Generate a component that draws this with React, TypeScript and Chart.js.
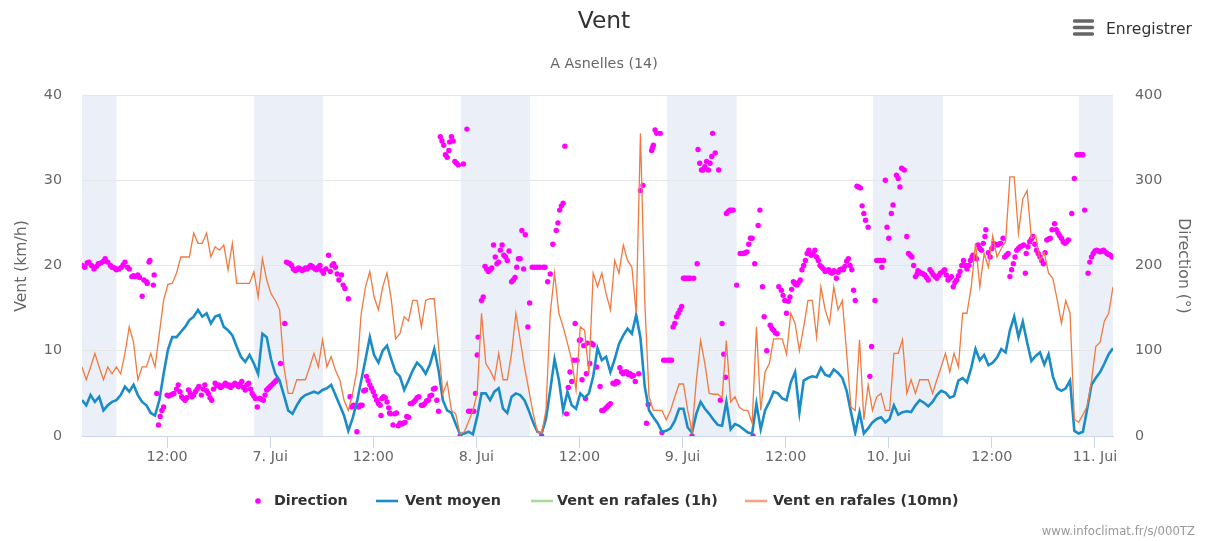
import React, { useEffect, useRef } from "react";
import { Chart, registerables } from "chart.js";

Chart.register(...registerables);

const FONT = '"DejaVu Sans", Verdana, Arial, sans-serif';

// Time grid of the wind series: hours counted from 6 Jui 00:00, every 30 min
const START_HOUR = 2.1;
const STEP_HOURS = 0.5;
const X_MIN = 2.1;
const X_MAX = 122.1;

// Vent moyen (km/h)
const ventMoyen = [
  4.2, 3.6, 4.8, 4.0, 4.6, 3.0, 3.6, 4.0, 4.2, 4.8,
  5.8, 5.2, 6.0, 4.8, 4.0, 3.6, 2.7, 2.4, 4.2, 7.3,
  10.1, 11.6, 11.6, 12.2, 12.8, 13.6, 14.0, 14.8, 14.0, 14.4,
  13.2, 14.0, 14.2, 12.8, 12.4, 11.8, 10.5, 9.3, 8.7, 9.5,
  8.5, 7.3, 12.0, 11.6, 9.0, 7.3, 6.5, 4.8, 3.0, 2.6,
  3.6, 4.4, 4.8, 5.0, 5.2, 5.0, 5.4, 5.6, 6.0, 4.8,
  3.6, 2.4, 0.6, 2.1, 4.0, 6.5, 9.0, 11.6, 9.5, 8.6,
  10.0, 10.6, 9.0, 7.5, 7.0, 5.4, 6.5, 7.7, 8.6, 8.1,
  7.3, 8.4, 10.2, 7.7, 4.2, 3.0, 2.7, 1.4, 0.2, 0.3,
  0.5, 0.2, 2.3, 5.0, 5.0, 4.2, 5.2, 5.6, 3.2, 2.7,
  4.6, 5.0, 4.8, 4.2, 3.0, 1.6, 0.5, 0.3, 2.0, 5.4,
  9.0, 6.6, 3.0, 5.2, 3.6, 3.2, 5.0, 4.5, 5.0, 7.0,
  10.3, 8.9, 9.3, 7.5, 9.0, 10.8, 11.8, 12.6, 12.0, 14.2,
  11.5, 5.8, 3.0, 2.2, 1.5, 0.5, 0.6, 0.9, 1.8, 3.2,
  3.2, 1.0, 0.4, 2.6, 4.0, 3.2, 2.6, 1.9, 1.3, 1.2,
  4.0, 0.8, 1.4, 1.2, 0.8, 0.4, 0.3, 3.8, 0.8, 3.0,
  4.0, 5.2, 5.0, 4.4, 4.2, 6.3, 7.5, 2.8, 6.5, 6.8,
  7.0, 6.9, 8.0, 7.2, 7.0, 7.8, 7.4, 6.8, 5.3, 2.8,
  0.4, 2.8, 0.3, 0.9, 1.6, 2.0, 2.2, 1.6, 2.0, 3.6,
  2.5, 2.8, 2.9, 2.8, 3.6, 4.2, 3.9, 3.5, 4.0, 4.8,
  5.3, 5.1, 4.5, 4.7, 6.5, 6.8, 6.3, 8.0, 10.2, 8.9,
  9.5, 8.3, 8.6, 9.2, 10.2, 9.8, 12.4, 14.0, 11.6, 13.4,
  11.0, 8.8, 9.4, 9.8, 8.4, 9.6, 7.0, 5.6, 5.3, 5.6,
  6.5, 0.6, 0.3, 0.5, 3.2, 6.0, 6.8, 7.5, 8.5, 9.6,
  10.3,
];

// Vent en rafales (10mn) (km/h)
const rafales10mn = [
  8.1, 6.6, 8.1, 9.7, 8.1, 6.6, 8.1, 7.3, 8.1, 7.3,
  9.7, 12.8, 11.0, 6.6, 8.1, 8.1, 9.7, 8.1, 12.0, 15.9,
  17.8, 17.9, 19.1, 21.0, 21.0, 21.0, 23.8, 22.6, 22.6, 23.8,
  21.0, 22.2, 21.8, 22.4, 19.5, 22.6, 17.9, 17.9, 17.9, 17.9,
  19.3, 16.3, 20.8, 18.3, 16.7, 15.9, 14.8, 8.1, 5.0, 5.0,
  6.6, 6.6, 6.6, 8.1, 9.7, 8.1, 11.3, 8.1, 9.3, 7.7,
  6.6, 4.2, 3.0, 5.0, 7.7, 14.4, 17.5, 19.3, 16.3, 14.8,
  17.5, 19.1, 16.0, 11.4, 12.0, 14.0, 13.5, 15.9, 15.9, 12.8,
  15.9, 16.1, 16.1, 10.5, 5.0, 6.3, 3.0, 2.6, 0.2, 0.5,
  1.7, 3.0, 5.0, 14.4, 8.5, 7.7, 6.6, 9.7, 6.6, 6.6,
  9.7, 14.4, 11.3, 8.1, 5.4, 2.7, 0.5, 0.3, 3.0, 14.4,
  19.1, 14.4, 12.8, 10.9, 8.9, 5.4, 12.8, 12.4, 7.3, 19.1,
  17.5, 19.1, 16.7, 14.8, 20.6, 19.1, 22.4, 20.6, 19.8, 14.4,
  35.5, 15.9, 4.6, 3.0, 3.0, 3.0, 1.9, 3.0, 4.6, 6.1,
  6.1, 3.0, 0.5, 6.5, 11.2, 8.5, 5.0, 4.9, 4.9, 4.5,
  11.2, 4.0, 4.6, 3.4, 3.0, 3.0, 1.5, 12.8, 3.0, 7.5,
  8.5, 11.4, 11.4, 11.4, 9.6, 14.4, 13.2, 10.0, 12.8, 15.9,
  15.9, 11.6, 17.5, 14.8, 13.2, 17.5, 14.8, 15.9, 9.7, 3.4,
  3.0, 11.3, 1.9, 6.0, 3.0, 4.6, 5.0, 3.0, 3.0, 9.7,
  9.7, 11.3, 5.0, 6.6, 5.0, 6.6, 6.6, 6.6, 5.0, 6.6,
  8.1, 9.7, 7.5, 9.7, 8.1, 14.4, 14.4, 17.5, 22.6, 17.5,
  21.4, 19.8, 23.5, 21.0, 22.0, 22.8, 30.4, 30.4, 23.8, 27.8,
  28.8, 23.2, 23.5, 20.6, 21.5, 19.1, 18.5, 16.0, 13.2, 15.9,
  14.4, 2.0, 1.6, 2.5, 3.5, 6.5, 10.5, 11.0, 13.5, 14.4,
  17.5,
];

// Vent en rafales (1h): no values shown on the picture
const rafales1h: number[] = [];

// Direction (°): hour of each dot and its value
const dirHours = [
  2.1, 2.4, 2.7, 2.9, 3.2, 3.5, 3.8, 4.0, 4.3, 4.6, 4.8, 5.1, 5.4, 5.6, 5.9,
  6.1, 6.4, 6.7, 6.9, 7.1, 7.4, 7.6, 7.9, 8.1, 8.3, 8.6, 8.8, 9.1, 9.3, 9.6,
  9.7, 9.9, 10.0, 10.4, 10.5,
  10.8, 11.0, 11.2, 11.4, 11.6, 12.0, 12.2, 12.4, 12.6, 12.8, 13.1, 13.3, 13.5, 13.7, 13.9,
  14.1, 14.3, 14.5, 14.7, 14.9, 15.1, 15.3, 15.5, 15.7, 16.0, 16.2, 16.4, 16.6, 16.8, 17.0,
  17.2, 17.4, 17.6, 17.8, 18.0, 18.2, 18.4, 18.6, 18.8, 19.0, 19.2, 19.4, 19.5, 19.7, 19.9,
  20.1, 20.3, 20.5, 20.7, 20.9, 21.1, 21.3, 21.5, 21.7, 21.9, 22.1, 22.3, 22.5, 22.8, 23.0,
  23.2, 23.4, 23.6, 23.8, 24.0, 24.2, 24.4, 24.6, 24.8, 25.2, 25.7,
  25.9, 26.1, 26.3, 26.5, 26.7, 26.9, 27.1, 27.3, 27.5, 27.7, 27.9, 28.1, 28.3, 28.5, 28.7,
  28.9, 29.0, 29.2, 29.4, 29.6, 29.8, 30.0, 30.2, 30.5, 30.8, 31.0, 31.2, 31.4, 31.6, 31.8,
  32.0, 32.3, 32.5, 32.7, 33.1,
  33.3, 33.5, 33.7, 33.9, 34.1, 34.3, 34.5, 34.7, 34.9, 35.1, 35.2, 35.4, 35.6, 35.8, 36.0,
  36.2, 36.4, 36.6, 36.8, 36.9, 37.0, 37.2, 37.4, 37.6, 37.8, 37.9, 38.0, 38.3, 38.5, 38.7,
  38.9, 39.1, 39.3, 39.5, 39.7, 39.9, 40.1, 40.3, 40.5, 40.7, 40.9, 41.1, 41.3, 41.6, 41.8,
  42.0, 42.2, 42.4, 42.6, 42.8, 43.0, 43.2, 43.4, 43.6,
  43.8, 44.0, 44.2, 44.4, 44.6, 44.8, 44.9, 45.1, 45.3, 45.5, 45.7, 45.9, 46.1, 46.5, 46.9,
  47.1, 47.4, 47.7, 47.9, 48.1, 48.2, 48.6, 48.8, 49.0, 49.2, 49.4, 49.6, 49.8, 50.0, 50.2,
  50.4, 50.6, 50.8, 51.0, 51.2, 51.4, 51.6, 51.8, 52.1, 52.3, 52.5, 52.7, 52.9, 53.1, 53.3,
  53.5, 53.7, 54.0, 54.2, 54.5, 54.8, 55.1, 55.4, 55.6, 55.8, 56.0, 56.3, 56.6, 56.9, 57.3,
  57.5, 57.7, 57.9, 58.1, 58.3,
  58.5, 58.7, 58.9, 59.1, 59.3, 59.5, 59.7, 60.0, 60.1, 60.3, 60.5, 60.7, 60.8, 60.9, 61.2,
  61.4, 61.6, 62.0, 62.4, 62.6, 62.8, 63.0, 63.2, 63.4, 63.6, 63.9, 64.1, 64.3, 64.5, 64.7,
  64.9, 65.1, 65.3, 65.5, 65.7, 65.9, 66.1, 66.3, 66.5, 66.9,
  67.1, 67.4, 67.8, 68.0, 68.4, 68.5, 68.6, 68.8, 69.0, 69.4, 69.6,
  69.8, 70.0, 70.3, 70.5, 70.7, 70.9, 71.1, 71.3, 71.5, 71.7, 71.9, 72.1, 72.3, 72.5, 72.7,
  72.9, 73.1, 73.3, 73.7,
  73.8, 74.0, 74.2, 74.4, 74.6, 74.8, 75.0, 75.2, 75.4, 75.5, 75.8, 76.2,
  76.4, 76.6, 76.8, 77.0, 77.1, 77.3, 77.5, 77.7, 77.9, 78.3, 78.7, 78.9, 79.1, 79.3, 79.5,
  79.7, 79.9, 80.1, 80.2, 80.4, 80.8, 81.0, 81.3, 81.5, 81.8, 82.2, 82.4, 82.6, 82.8, 83.0,
  83.2, 83.5, 83.7, 83.9, 84.1, 84.3, 84.5, 84.7, 84.9, 85.1, 85.3, 85.5, 85.7, 85.9, 86.1,
  86.3, 86.5, 86.7, 86.9, 87.0, 87.2, 87.4, 87.6, 87.8, 88.0, 88.2, 88.4, 88.6, 88.8, 89.0,
  89.2, 89.4, 89.6, 89.7, 89.9, 90.1, 90.3, 90.5, 90.7, 90.9, 91.1, 91.3, 91.5, 91.7, 91.9,
  92.1,
  92.3, 92.5, 92.7, 92.9, 93.1, 93.3, 93.6, 93.8, 94.0, 94.4, 94.6, 94.8, 95.0, 95.2, 95.4,
  95.6, 95.8, 96.0, 96.3, 96.5, 96.9, 97.1, 97.3, 97.5, 97.8, 98.1, 98.3, 98.5, 98.7, 98.9,
  99.1, 99.3, 99.4, 99.6, 99.8, 100.0, 100.2, 100.4, 100.6, 100.8, 101.0, 101.2, 101.4, 101.6, 101.8,
  102.0, 102.3, 102.5, 102.7, 102.9, 103.1, 103.3, 103.5, 103.7, 103.9, 104.1, 104.3, 104.5, 104.7, 104.9,
  105.1, 105.3, 105.5, 105.7, 105.8, 106.0, 106.2, 106.4, 106.6, 106.8, 107.0, 107.2, 107.3, 107.6, 107.8,
  108.0, 108.2, 108.4, 108.6, 108.8, 109.0, 109.3, 109.5, 109.7, 109.9, 110.1, 110.3, 110.5, 110.7, 110.9,
  111.1, 111.3, 111.5, 111.7, 111.9, 112.0, 112.2, 112.4, 112.6, 112.8, 113.0, 113.2, 113.4, 113.6, 113.8,
  114.0, 114.2, 114.4, 114.6, 114.8, 115.0, 115.3, 115.5, 115.7, 115.9, 116.1, 116.3, 116.5, 116.7, 116.9,
  117.3, 117.6, 117.9, 118.1, 118.3, 118.5, 118.6, 118.8, 119.2, 119.4, 119.6, 119.8, 120.0, 120.2, 120.4,
  120.6, 120.8, 121.0, 121.2, 121.4, 121.6, 121.8, 122.0,
];

const dirDeg = [
  200, 198, 203, 204, 200, 196, 199, 202, 203, 205, 208, 204, 200, 198, 197,
  195, 196, 198, 201, 204, 198, 196, 187, 188, 187, 189, 186, 164, 183, 181,
  179, 204, 206, 177, 189,
  50, 13, 23, 30, 34, 48, 47, 48, 49, 50, 55, 60, 52, 46, 44,
  42, 45, 54, 50, 46, 48, 52, 55, 58, 48, 55, 60, 53, 50, 45,
  42, 55, 62, 59, 60, 57, 58, 60, 62, 59, 60, 57, 58, 60, 62,
  60, 58, 61, 64, 57, 54, 60, 62, 55, 50, 47, 44, 34, 44, 43,
  42, 48, 54, 56, 58, 60, 62, 64, 66, 85, 132,
  204, 203, 202, 200, 196, 194, 195, 197, 196, 194, 195, 197, 196, 198, 200,
  199, 198, 196, 195, 198, 200, 194, 191, 196, 212, 193, 200, 202, 198, 190,
  183, 189, 177, 173, 161,
  46, 34, 36, 35, 5, 34, 36, 36, 53, 54, 70, 65, 60, 56, 52,
  47, 42, 38, 36, 24, 44, 46, 45, 40, 33, 27, 26, 13, 26, 27,
  12, 15, 14, 15, 16, 23, 22, 38, 38, 40, 42, 45, 46, 36, 36,
  38, 41, 42, 47, 48, 55, 56, 42, 29,
  351, 346, 341, 330, 327, 335, 345, 351, 346, 322, 320, 318, 0, 319, 360,
  29, 29, 29, 50, 95, 116, 159, 163, 199, 196, 193, 195, 197, 224, 210,
  202, 204, 218, 224, 212, 210, 206, 217, 181, 183, 186, 198, 208, 208, 241,
  196, 236, 128, 156, 198, 198, 198, 198, 0, 198, 198, 181, 190, 225, 241,
  250, 265, 270, 273, 340,
  26, 57, 75, 64, 89, 132, 89, 112, 113, 66, 106, 44, 73, 109, 85,
  109, 107, 81, 58, 30, 30, 32, 34, 36, 38, 62, 61, 64, 63, 80,
  75, 73, 75, 75, 72, 73, 70, 71, 64, 73,
  288, 294, 15, 37, 335, 338, 341, 359, 355, 355, 4,
  89, 89, 89, 89, 89, 128, 132, 140, 144, 148, 152, 185, 185, 185, 185,
  185, 0, 185, 202,
  336, 320, 312, 312, 316, 322, 312, 320, 328, 355, 332, 312,
  42, 132, 96, 69, 261, 263, 265, 265, 265, 177, 214, 214, 214, 215, 216,
  225, 232, 232, 0, 202, 247, 265, 175, 140, 100, 130, 126, 124, 121, 120,
  175, 171, 165, 159, 144, 158, 163, 172, 181, 178, 177, 180, 183, 195, 200,
  206, 214, 218, 213, 212, 214, 218, 210, 206, 200, 198, 196, 193, 194, 195,
  192, 191, 194, 193, 185, 192, 195, 196, 195, 199, 205, 208, 200, 195, 171,
  159,
  293, 292, 291, 270, 261, 253, 245, 70, 105, 159, 206, 206, 206, 198, 206,
  300, 245, 232, 261, 271, 306, 302, 292, 314, 312, 234, 214, 212, 210, 200,
  187, 190, 194, 192, 191, 190, 189, 186, 183, 195, 192, 189, 187, 185, 188,
  191, 193, 195, 189, 183, 185, 187, 175, 180, 183, 188, 193, 200, 206, 200,
  196, 200, 206, 210, 212, 210, 208, 224, 220, 218, 226, 234, 242, 215, 210,
  220, 226, 225, 224, 225, 226, 232, 210, 212, 214, 187, 195, 202, 210, 218,
  220, 222, 223, 224, 191, 214, 222, 228, 231, 234, 225, 218, 214, 210, 206,
  202, 215, 230, 231, 232, 242, 249, 242, 238, 235, 232, 228, 226, 228, 230,
  261, 302, 330, 330, 330, 330, 330, 265, 191, 204, 210, 214, 217, 218, 217,
  216, 217, 218, 216, 214, 213, 212, 210,
];

// X axis tick positions (hours) and their labels
const xTickHours = [12, 24, 36, 48, 60, 72, 84, 96, 108, 120];
const xTickLabels = ["12:00", "7. Jui", "12:00", "8. Jui", "12:00", "9. Jui", "12:00", "10. Jui", "12:00", "11. Jui"];

// Night bands (hours)
const nightStart = [-2, 22.15, 46.2, 70.2, 94.15, 118.15];
const nightEnd = [6.1, 30.15, 54.25, 78.3, 102.3, 126];

const seriesNames = ["Direction", "Vent moyen", "Vent en rafales (1h)", "Vent en rafales (10mn)"];
const seriesColors = ["#ff00ff", "#1a8cc8", "#90ed7d", "#f07a3f"];
const legendSymbolColors = ["#ff00ff", "#1a8cc8", "#a8dc9b", "#f5a585"];

function onGrid(values: number[]) {
  return values.map((v, i) => ({ x: START_HOUR + i * STEP_HOURS, y: v }));
}

function directionPoints() {
  const n = Math.min(dirHours.length, dirDeg.length);
  const pts: { x: number; y: number }[] = [];
  for (let i = 0; i < n; i++) pts.push({ x: dirHours[i], y: dirDeg[i] });
  return pts;
}

const decorPlugin = {
  id: "decor",
  beforeDraw(chart: any) {
    const { ctx, chartArea, scales } = chart;
    const xs = scales.x;
    ctx.save();
    ctx.fillStyle = "#ebeff7";
    for (let i = 0; i < nightStart.length; i++) {
      const a = Math.max(xs.getPixelForValue(nightStart[i]), chartArea.left);
      const b = Math.min(xs.getPixelForValue(nightEnd[i]), chartArea.right);
      if (b > a) ctx.fillRect(a, chartArea.top, b - a, chartArea.bottom - chartArea.top);
    }
    ctx.restore();
  },
  afterDraw(chart: any) {
    const ctx = chart.ctx as CanvasRenderingContext2D;
    const w = chart.width;
    ctx.save();
    // Title + subtitle
    ctx.textAlign = "center";
    ctx.textBaseline = "middle";
    ctx.fillStyle = "#333333";
    ctx.font = `23.4px ${FONT}`;
    ctx.fillText("Vent", w / 2, 22);
    ctx.fillStyle = "#666666";
    ctx.font = `14.3px ${FONT}`;
    ctx.fillText("A Asnelles (14)", w / 2, 64);

    // Export menu
    ctx.strokeStyle = "#666666";
    ctx.lineWidth = 3.4;
    ctx.lineCap = "round";
    [21, 27.5, 34].forEach((y) => {
      ctx.beginPath();
      ctx.moveTo(1074.5, y);
      ctx.lineTo(1092.5, y);
      ctx.stroke();
    });
    ctx.fillStyle = "#333333";
    ctx.font = `15.6px ${FONT}`;
    ctx.textAlign = "left";
    ctx.fillText("Enregistrer", 1106, 30);

    // Axis titles
    ctx.fillStyle = "#666666";
    ctx.font = `15.6px ${FONT}`;
    ctx.textAlign = "center";
    ctx.save();
    ctx.translate(22, 266);
    ctx.rotate(-Math.PI / 2);
    ctx.fillText("Vent (km/h)", 0, 0);
    ctx.restore();
    ctx.save();
    ctx.translate(1183, 266);
    ctx.rotate(Math.PI / 2);
    ctx.fillText("Direction (°)", 0, 0);
    ctx.restore();

    // Legend
    const ly = 501;
    ctx.font = `bold 14.3px ${FONT}`;
    ctx.textAlign = "left";
    ctx.fillStyle = legendSymbolColors[0];
    ctx.beginPath();
    ctx.arc(258, ly, 2.8, 0, Math.PI * 2);
    ctx.fill();
    const lineStarts = [0, 376, 531, 745];
    const textStarts = [274, 405, 557, 773];
    for (let i = 1; i < 4; i++) {
      ctx.strokeStyle = legendSymbolColors[i];
      ctx.lineWidth = 2.6;
      ctx.lineCap = "butt";
      ctx.beginPath();
      ctx.moveTo(lineStarts[i], ly);
      ctx.lineTo(lineStarts[i] + 22, ly);
      ctx.stroke();
    }
    ctx.fillStyle = "#333333";
    for (let i = 0; i < 4; i++) ctx.fillText(seriesNames[i], textStarts[i], ly);

    // Credits
    ctx.fillStyle = "#999999";
    ctx.font = `11.7px ${FONT}`;
    ctx.textAlign = "right";
    ctx.textBaseline = "alphabetic";
    ctx.fillText("www.infoclimat.fr/s/000TZ", 1195, 535);
    ctx.restore();
  },
};

export default function App() {
  const canvasRef = useRef<HTMLCanvasElement | null>(null);

  useEffect(() => {
    document.body.style.margin = "0";
    const canvas = canvasRef.current;
    if (!canvas) return;

    const chart = new Chart(canvas, {
      type: "line",
      data: {
        datasets: [
          {
            label: seriesNames[0],
            data: directionPoints(),
            yAxisID: "y1",
            showLine: false,
            pointRadius: 2.7,
            pointHoverRadius: 2.7,
            pointBorderWidth: 0,
            pointBackgroundColor: seriesColors[0],
            borderColor: seriesColors[0],
            backgroundColor: seriesColors[0],
            order: 3,
          },
          {
            label: seriesNames[1],
            data: onGrid(ventMoyen),
            yAxisID: "y",
            borderColor: seriesColors[1],
            backgroundColor: seriesColors[1],
            borderWidth: 2.6,
            pointRadius: 0,
            tension: 0,
            order: 1,
          },
          {
            label: seriesNames[2],
            data: onGrid(rafales1h),
            yAxisID: "y",
            borderColor: seriesColors[2],
            backgroundColor: seriesColors[2],
            borderWidth: 1.3,
            pointRadius: 0,
            order: 2,
          },
          {
            label: seriesNames[3],
            data: onGrid(rafales10mn),
            yAxisID: "y",
            borderColor: seriesColors[3],
            backgroundColor: seriesColors[3],
            borderWidth: 1.3,
            pointRadius: 0,
            tension: 0,
            order: 0,
          },
        ],
      },
      options: {
        animation: false,
        responsive: true,
        maintainAspectRatio: false,
        devicePixelRatio: 1,
        events: [],
        layout: { padding: { top: 95, left: 0, right: 0, bottom: 0 } },
        plugins: {
          legend: { display: false },
          title: { display: false },
          tooltip: { enabled: false },
        },
        scales: {
          x: {
            type: "linear",
            min: X_MIN,
            max: X_MAX,
            afterBuildTicks: (scale: any) => {
              scale.ticks = xTickHours.map((v) => ({ value: v }));
            },
            afterFit: (scale: any) => {
              scale.height = 105;
            },
            ticks: {
              autoSkip: false,
              maxRotation: 0,
              minRotation: 0,
              padding: 1,
              color: "#666666",
              font: { family: FONT, size: 14.3 },
              callback: (value: any) => {
                const i = xTickHours.indexOf(Number(value));
                return i >= 0 ? xTickLabels[i] : "";
              },
            },
            grid: {
              display: true,
              drawOnChartArea: false,
              drawTicks: true,
              tickLength: 12,
              color: "#ccd6eb",
              lineWidth: 1,
            },
            border: { display: true, color: "#ccd6eb", width: 1 },
          },
          y: {
            type: "linear",
            position: "left",
            min: 0,
            max: 40,
            afterFit: (scale: any) => {
              scale.width = 82;
            },
            ticks: {
              stepSize: 10,
              padding: 20,
              color: "#666666",
              font: { family: FONT, size: 14.3 },
            },
            grid: {
              drawTicks: false,
              color: (c: any) => (c.tick && c.tick.value === 0 ? "rgba(0,0,0,0)" : "#e6e6e6"),
              lineWidth: 1,
            },
            border: { display: false },
          },
          y1: {
            type: "linear",
            position: "right",
            min: 0,
            max: 400,
            afterFit: (scale: any) => {
              scale.width = 95;
            },
            ticks: {
              stepSize: 100,
              padding: 22,
              color: "#666666",
              font: { family: FONT, size: 14.3 },
            },
            grid: { drawOnChartArea: false, drawTicks: false },
            border: { display: false },
          },
        },
      },
      plugins: [decorPlugin],
    } as any);

    return () => chart.destroy();
  }, []);

  return (
    <div style={{ width: 1208, height: 541, position: "relative" }}>
      <canvas ref={canvasRef} />
    </div>
  );
}
